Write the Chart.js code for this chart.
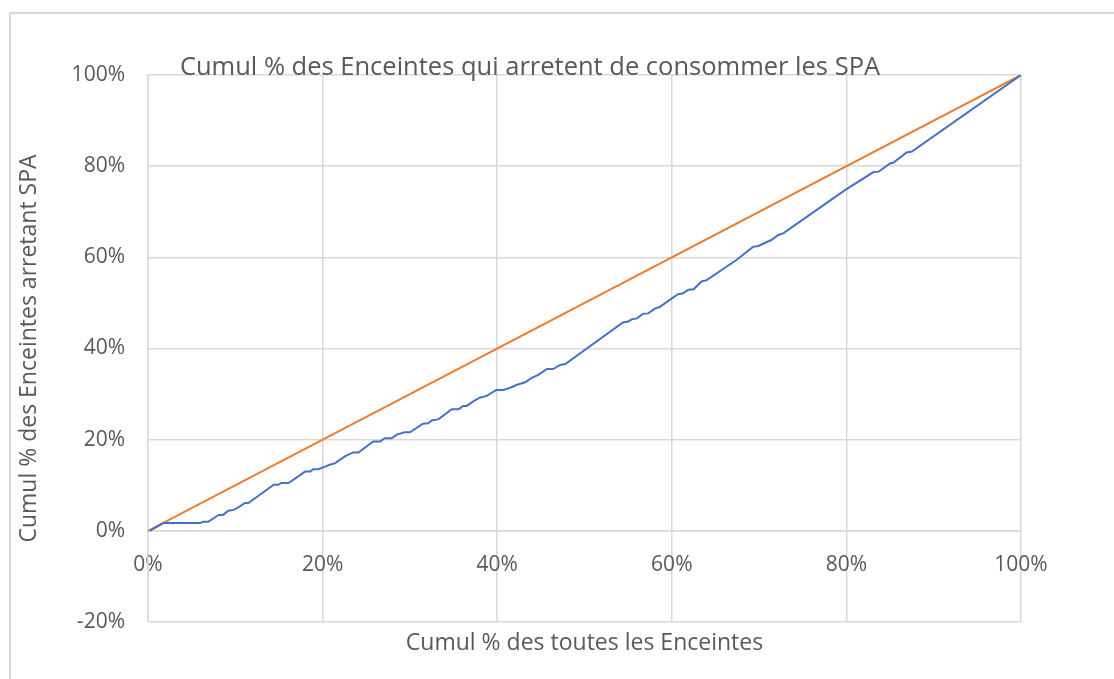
<!DOCTYPE html>
<html>
<head>
<meta charset="utf-8">
<script src="https://cdn.jsdelivr.net/npm/chart.js@4"></script>
<style>
  body { margin: 0; background: #fff; }
  #frame { position: absolute; left: 9px; top: 12px; width: 1200px; height: 800px;
           border-left: 2px solid #d9d9d9; border-top: 2px solid #d9d9d9; }
  #c { position: absolute; left: 0; top: 0; }
</style>
</head>
<body>
<div id="frame"></div>
<canvas id="c" width="1114" height="679"></canvas>
<script>
// cumulative share of all women (x) vs share of women who stopped SPA (y)
const cumAll = [0.002, 0.0175, 0.060, 0.063, 0.069, 0.081, 0.086, 0.092, 0.098, 0.103, 0.111, 0.115,
    0.144, 0.149, 0.153, 0.161, 0.180, 0.186, 0.189, 0.195, 0.203, 0.208, 0.214, 0.226,
    0.235, 0.241, 0.258, 0.266, 0.271, 0.279, 0.285, 0.294, 0.300, 0.315, 0.321, 0.325,
    0.333, 0.348, 0.356, 0.361, 0.365, 0.375, 0.380, 0.388, 0.399, 0.407, 0.415, 0.422,
    0.432, 0.439, 0.447, 0.457, 0.464, 0.472, 0.478, 0.544, 0.550, 0.554, 0.560, 0.567,
    0.573, 0.581, 0.586, 0.607, 0.613, 0.619, 0.625, 0.634, 0.640, 0.674, 0.693, 0.699,
    0.707, 0.714, 0.722, 0.728, 0.798, 0.831, 0.837, 0.850, 0.854, 0.869, 0.875, 1.000];
const cumStop = [0.000, 0.017, 0.017, 0.020, 0.020, 0.035, 0.035, 0.044, 0.046, 0.051, 0.061, 0.061,
    0.101, 0.101, 0.105, 0.105, 0.130, 0.130, 0.135, 0.135, 0.141, 0.145, 0.148, 0.164,
    0.172, 0.172, 0.196, 0.196, 0.203, 0.203, 0.211, 0.216, 0.216, 0.235, 0.236, 0.242,
    0.245, 0.267, 0.267, 0.274, 0.274, 0.287, 0.292, 0.296, 0.309, 0.309, 0.314, 0.320,
    0.326, 0.335, 0.342, 0.355, 0.355, 0.364, 0.366, 0.457, 0.459, 0.464, 0.466, 0.476,
    0.477, 0.488, 0.491, 0.519, 0.521, 0.529, 0.530, 0.547, 0.550, 0.594, 0.623, 0.625,
    0.632, 0.638, 0.649, 0.653, 0.747, 0.787, 0.788, 0.806, 0.808, 0.830, 0.832, 1.000];
const diagX = [0, 1];
const diagY = [0, 1];

const xTicks = [0, 0.2, 0.4, 0.6, 0.8, 1];
const yTicks = [-0.2, 0, 0.2, 0.4, 0.6, 0.8, 1];

const textColor = '#595959';
const gridColor = '#d9d9d9';
const fontFam = "'Open Sans', sans-serif";

const pct = v => Math.round(v * 100) + '%';

const titlePlugin = {
    id: 'topTitle',
    afterDraw(chart) {
        const c = chart.ctx;
        c.save();
        c.font = '25.5px ' + fontFam;
        c.fillStyle = textColor;
        c.textAlign = 'center';
        c.textBaseline = 'alphabetic';
        c.fillText('Cumul % des Enceintes qui arretent de consommer les SPA', 530, 75);
        c.restore();
    }
};

const ctx = document.getElementById('c');

new Chart(ctx, {
    type: 'line',
    data: {
        datasets: [{
            label: 'Enceintes',
            data: cumAll.map((x, i) => ({ x: x, y: cumStop[i] })),
            borderColor: '#4472C4',
            borderWidth: 2,
            pointRadius: 0,
            fill: false,
            xAxisID: 'x',
            yAxisID: 'y'
        }, {
            label: 'Egalite',
            data: diagX.map((x, i) => ({ x: x, y: diagY[i] })),
            borderColor: '#ED7D31',
            borderWidth: 2,
            pointRadius: 0,
            fill: false,
            xAxisID: 'x',
            yAxisID: 'y'
        }]
    },
    options: {
        responsive: false,
        animation: false,
        devicePixelRatio: 1,
        layout: { padding: { left: 0, right: 93, top: 75, bottom: 0 } },
        plugins: {
            legend: { display: false },
            tooltip: { enabled: false }
        },
        scales: {
            x: {
                type: 'linear',
                position: { y: 0 },
                min: 0,
                max: 1,
                afterBuildTicks: s => { s.ticks = xTicks.map(v => ({ value: v })); },
                ticks: {
                    callback: pct,
                    color: textColor,
                    font: { family: fontFam, size: 21 },
                    padding: 22,
                    maxRotation: 0
                },
                grid: { color: gridColor, lineWidth: 1.5, drawTicks: false },
                border: { color: gridColor, width: 1.5 }
            },
            xt: {
                type: 'linear',
                position: 'bottom',
                min: 0,
                max: 1,
                ticks: { display: false },
                grid: { display: false, drawTicks: false },
                border: { display: false },
                title: {
                    display: true,
                    text: 'Cumul % des toutes les Enceintes',
                    color: textColor,
                    font: { family: fontFam, size: 23 },
                    padding: { top: 0, bottom: 22 }
                },
                afterFit: s => { s.height = 57; }
            },
            y: {
                type: 'linear',
                position: 'left',
                min: -0.2,
                max: 1,
                afterBuildTicks: s => { s.ticks = yTicks.map(v => ({ value: v })); },
                ticks: {
                    callback: pct,
                    color: textColor,
                    font: { family: fontFam, size: 21 },
                    padding: 23
                },
                grid: { color: gridColor, lineWidth: 1.5, drawTicks: false },
                border: { color: gridColor, width: 1.5 },
                title: {
                    display: true,
                    text: 'Cumul % des Enceintes arretant SPA',
                    color: textColor,
                    font: { family: fontFam, size: 23 },
                    padding: { top: 16, bottom: 0 }
                },
                afterFit: s => { s.width = 148; }
            }
        }
    },
    plugins: [titlePlugin]
});
</script>
</body>
</html>
